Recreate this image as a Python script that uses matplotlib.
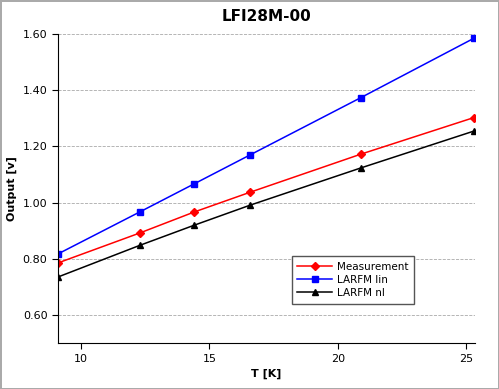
import matplotlib
matplotlib.use("Agg")
import matplotlib.pyplot as plt
import numpy as np

T = [9.1, 12.3, 14.4, 16.6, 20.9, 25.3]
measurement = [0.785, 0.892, 0.966, 1.037, 1.172, 1.302]
larfm_lin = [0.817, 0.967, 1.066, 1.170, 1.373, 1.584]
larfm_nl = [0.735, 0.848, 0.919, 0.991, 1.123, 1.254]
yticks = [0.60, 0.80, 1.00, 1.20, 1.40, 1.60]
xticks = [10, 15, 20, 25]

fig = plt.figure(figsize=(4.99, 3.89), dpi=100)
fig.patch.set_edgecolor("#aaaaaa")
fig.patch.set_linewidth(1.0)
ax = fig.add_axes([0.116, 0.118, 0.836, 0.795])

ax.plot(T, measurement, "-D", color="red", markersize=3.8, linewidth=1.1, label="Measurement")
ax.plot(T, larfm_lin, "-s", color="blue", markersize=5, linewidth=1.1, label="LARFM lin")
ax.plot(T, larfm_nl, "-^", color="black", markersize=5, linewidth=1.1, label="LARFM nl")

ax.set_xlim(9.1, 25.35)
ax.set_ylim(0.5, 1.6)
ax.set_xticks(xticks)
ax.set_yticks(yticks)
ax.set_yticklabels(["%.2f" % v for v in yticks])
ax.tick_params(labelsize=8, length=4)
ax.yaxis.grid(True, linestyle="--", color="#aaaaaa", linewidth=0.6)
ax.set_axisbelow(True)
for s in ["top", "right"]:
    ax.spines[s].set_visible(False)

ax.set_title("LFI28M-00", fontsize=11, fontweight="bold", pad=9)
ax.set_xlabel("T [K]", fontsize=8, fontweight="bold")
ax.set_ylabel("Output [v]", fontsize=8, fontweight="bold")

leg = ax.legend(loc="lower left", bbox_to_anchor=(0.548, 0.11), fontsize=7.5,
                fancybox=False, framealpha=1, edgecolor="#555555",
                borderpad=0.55, labelspacing=0.3, handlelength=3.3,
                handletextpad=0.5)

fig.savefig("out.png", dpi=100)
